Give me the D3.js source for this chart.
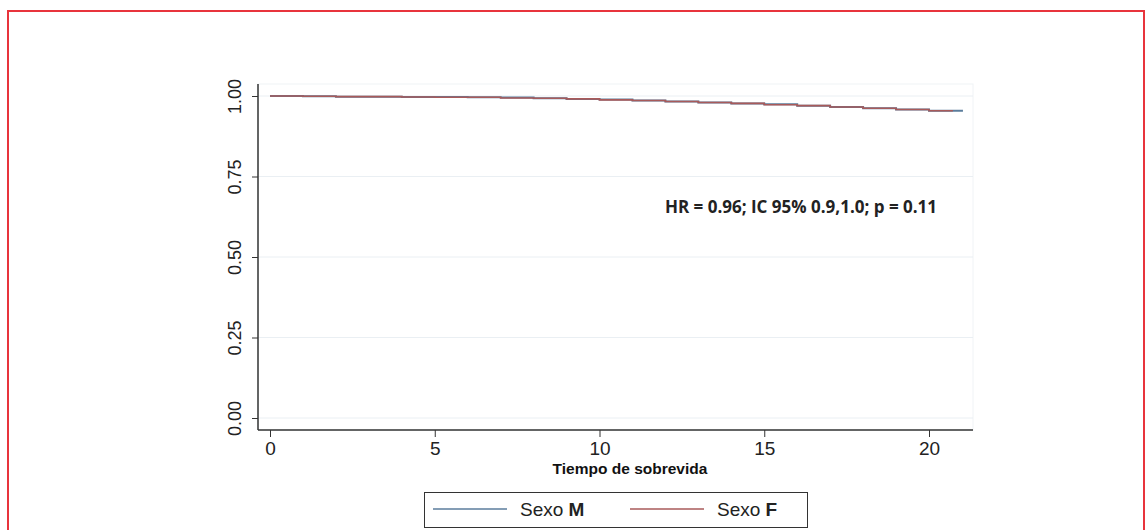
<!DOCTYPE html>
<html>
<head>
<meta charset="utf-8">
<style>
  body { margin: 0; background: #fff; }
  svg { display: block; font-family: 'Liberation Sans', Arial, sans-serif; }
  .grid line { stroke: #eaeff3; stroke-width: 1px; }
  .axis path, .axis line { stroke: #333; }
  .axis text { fill: #222; }
</style>
</head>
<body>
<svg width="1146" height="530"></svg>
<script src="https://d3js.org/d3.v7.min.js"></script>
<script>
// survival estimates
const timesM = [0, 1, 2, 3, 4, 5, 6, 7, 8, 9, 10, 11, 12, 13, 14, 15, 16, 17, 18, 19, 20, 21];
const survM  = [1.000, 0.999, 0.998, 0.998, 0.997, 0.997, 0.996, 0.995, 0.993, 0.991, 0.989, 0.986, 0.983, 0.980, 0.977, 0.974, 0.970, 0.966, 0.962, 0.958, 0.954, 0.951];
const timesF = [0, 1, 2, 3, 4, 5, 6, 7, 8, 9, 10, 11, 12, 13, 14, 15, 16, 17, 18, 19, 20, 20.7];
const survF  = [1.000, 0.999, 0.998, 0.998, 0.997, 0.996, 0.996, 0.994, 0.993, 0.991, 0.988, 0.986, 0.983, 0.980, 0.977, 0.973, 0.970, 0.966, 0.962, 0.958, 0.954, 0.952];
const xTicks = [0, 5, 10, 15, 20];
const yTicks = [0, 0.25, 0.5, 0.75, 1];
const legendLabels = ["M", "F"];
const colorM = "#5b7d9c";
const colorF = "#a85a5a";

const svg = d3.select("svg");

// red frame round the figure
svg.append("rect")
  .attr("x", 8).attr("y", 11)
  .attr("width", 1136).attr("height", 540)
  .attr("fill", "none")
  .attr("stroke", "#e8343c")
  .attr("stroke-width", 2);

const x = d3.scaleLinear().domain([0, 20]).range([270, 929]);
const y = d3.scaleLinear().domain([0, 1]).range([418, 96]);

const pLeft = 258, pRight = 973, pTop = 84, pBottom = 430;

// plot region outline (very faint)
svg.append("rect")
  .attr("x", pLeft).attr("y", pTop)
  .attr("width", pRight - pLeft).attr("height", pBottom - pTop)
  .attr("fill", "none")
  .attr("stroke", "#f0f3f6");

// horizontal grid
svg.append("g").attr("class", "grid")
  .selectAll("line")
  .data(yTicks)
  .join("line")
  .attr("x1", pLeft).attr("x2", pRight)
  .attr("y1", d => y(d)).attr("y2", d => y(d));

// curves
const line = d3.line()
  .x(d => x(d[0]))
  .y(d => y(d[1]))
  .curve(d3.curveStepAfter);

svg.append("path")
  .datum(timesM.map((t, i) => [t, survM[i]]))
  .attr("fill", "none")
  .attr("stroke", colorM)
  .attr("stroke-width", 2)
  .attr("d", line);

svg.append("path")
  .datum(timesF.map((t, i) => [t, survF[i]]))
  .attr("fill", "none")
  .attr("stroke", colorF)
  .attr("stroke-width", 1.6)
  .attr("d", line);

// y axis
const yAxis = svg.append("g").attr("class", "axis")
  .attr("transform", `translate(${pLeft},0)`)
  .call(d3.axisLeft(y).tickValues(yTicks).tickSize(6).tickPadding(6).tickFormat(d3.format(".2f")))
  .call(g => g.select(".domain").attr("d", `M0,${pTop}V${pBottom}`).attr("stroke-width", 1.5));
yAxis.selectAll("text")
  .attr("font-size", 18)
  .attr("text-anchor", "middle")
  .attr("dy", 0)
  .attr("x", 0)
  .attr("transform", "translate(-23,0) rotate(-90)")
  .attr("dominant-baseline", "central");

// x axis
svg.append("g").attr("class", "axis")
  .attr("transform", `translate(0,${pBottom})`)
  .call(d3.axisBottom(x).tickValues(xTicks).tickSize(7).tickPadding(5))
  .call(g => g.select(".domain").attr("d", `M${pLeft},0H${pRight}`).attr("stroke-width", 1.5))
  .selectAll("text").attr("font-size", 19);

svg.append("text")
  .attr("x", 630).attr("y", 474)
  .attr("text-anchor", "middle")
  .attr("font-size", 15.5).attr("font-weight", "bold")
  .attr("fill", "#111")
  .text("Tiempo de sobrevida");

svg.append("text")
  .attr("x", 801).attr("y", 213)
  .attr("text-anchor", "middle")
  .attr("font-family", "'Open Sans', sans-serif")
  .attr("font-size", 17).attr("font-weight", "bold")
  .attr("fill", "#222")
  .text("HR = 0.96; IC 95% 0.9,1.0; p = 0.11");

// legend
const lg = svg.append("g");
lg.append("rect")
  .attr("x", 424.5).attr("y", 492.5)
  .attr("width", 383).attr("height", 35)
  .attr("fill", "#fff").attr("stroke", "#333");

const items = lg.selectAll("g.item")
  .data(legendLabels)
  .join("g")
  .attr("transform", (d, i) => `translate(${433 + i * 197},509)`);
items.append("line")
  .attr("x1", 0).attr("x2", 74)
  .attr("stroke", (d, i) => i === 0 ? colorM : colorF)
  .attr("stroke-width", 1.3);
const t = items.append("text")
  .attr("x", 87).attr("y", 7)
  .attr("font-size", 19).attr("fill", "#222");
t.append("tspan").text("Sexo ");
t.append("tspan").attr("font-weight", "bold").text(d => d);
</script>
</body>
</html>
